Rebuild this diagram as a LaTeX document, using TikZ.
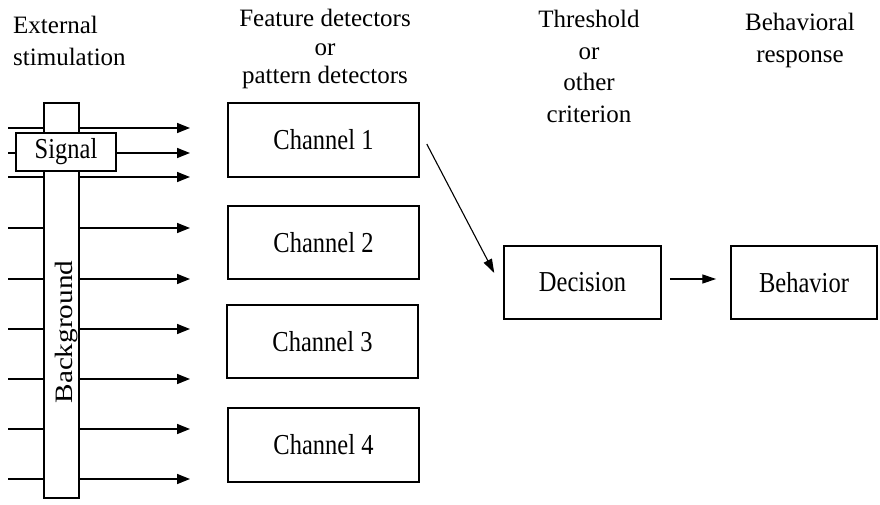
\documentclass[tikz,border=0pt]{standalone}
\usepackage{fontspec}
\setmainfont{Liberation Serif}
\usepackage{graphicx}
\usetikzlibrary{arrows.meta}

% box labels are set slightly taller than wide
\newcommand\tallrm[1]{\scalebox{1}[1.18]{#1}}

\begin{document}
\begin{tikzpicture}[x=1pt,y=-1pt,
  box/.style={draw, fill=white, inner sep=0pt, line width=1.5pt,
    font=\fontsize{24.5}{29}\selectfont},
  chanbox/.style={box, minimum width=191pt, minimum height=74pt},
  stagebox/.style={box, minimum height=73pt},
  head/.style={inner sep=0pt, anchor=north, align=center},
  feed/.style={-{Triangle[length=13pt,width=10pt]}, line width=1.5pt},
  link/.style={-{Triangle[length=14pt,width=9pt]}, line width=1.3pt},
]
\useasboundingbox (0,0) rectangle (880,505);

% column headings
\node[head, anchor=north west, align=left, font=\fontsize{25}{32}\selectfont]
  (hstim) at (13,16) {External\\stimulation};
\node[head, font=\fontsize{25}{28.5}\selectfont]
  (hfeat) at (325,9) {Feature detectors\\or\\pattern detectors};
\node[head, font=\fontsize{25}{31.5}\selectfont]
  (hcrit) at (589,10) {Threshold\\or\\other\\criterion};
\node[head, font=\fontsize{25}{32}\selectfont]
  (hresp) at (800,13) {Behavioral\\response};

% input lines feeding the detectors
\foreach \y [count=\i] in {128,153,177,228,279,329,379,429,479} {
  \coordinate (src\i) at (8,\y);
  \coordinate (dst\i) at (190,\y);
  \draw[feed] (src\i) -- (dst\i);
}

% background bar and the signal across it
\node[box, minimum width=35pt, minimum height=395pt] (bar) at (61.5,300.5) {};
\node[box, minimum width=100pt, minimum height=38pt] (signal) at (66,152)
  {\tallrm{Signal}};
\node[inner sep=0pt, rotate=90, anchor=base, font=\fontsize{25}{29}\selectfont]
  (bgtext) at (72.5,332) {\scalebox{1.17}[1]{Background}};

% detector channels
\node[chanbox] (ch1) at (323.5,140)   {\tallrm{Channel 1}};
\node[chanbox, minimum height=73pt] (ch2) at (323.5,242.5) {\tallrm{Channel 2}};
\node[chanbox, minimum height=73pt] (ch3) at (322.5,341.5) {\tallrm{Channel 3}};
\node[chanbox] (ch4) at (323.5,445)   {\tallrm{Channel 4}};

% decision and behaviour
\node[stagebox, minimum width=157pt] (dec) at (582.5,282.5) {\tallrm{Decision}};
\node[stagebox, minimum width=146pt] (beh) at (804,282.5)   {\tallrm{Behavior}};

\draw[link, line width=1.1pt] ([shift={(7,4)}]ch1.east) -- ([shift={(-9,-9.5)}]dec.west);
\draw[link] ([shift={(8,-3.5)}]dec.east) -- ([shift={(-14,-3.5)}]beh.west);
\end{tikzpicture}
\end{document}
